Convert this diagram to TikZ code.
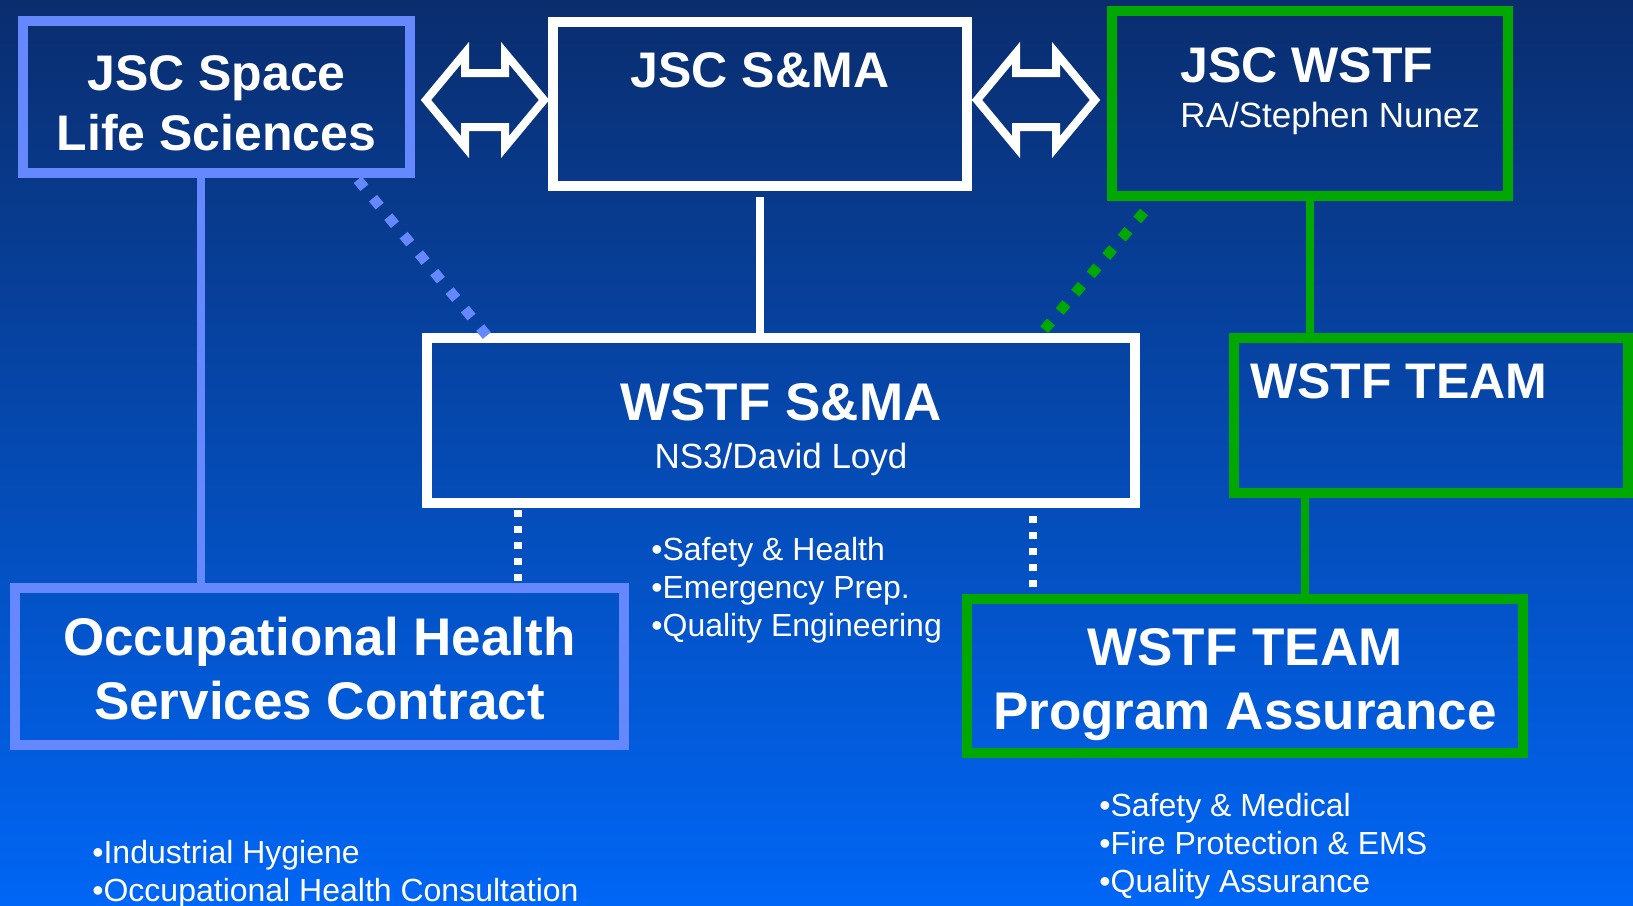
\documentclass[tikz,border=0pt]{standalone}
\usepackage{fontspec}
\setmainfont{Liberation Sans}
\usetikzlibrary{calc,positioning}
\definecolor{lsblue}{RGB}{102,136,255}
\definecolor{wgreen}{RGB}{0,168,0}
\definecolor{bgtop}{RGB}{10,45,110}
\definecolor{bgbot}{RGB}{0,102,245}
\begin{document}
\begin{tikzpicture}[
    x=0.5pt, y=-0.5pt,
    lsbox/.style={rectangle, draw=lsblue, line width=4.7pt, inner sep=0pt},
    whitebox/.style={rectangle, draw=white, line width=5pt, inner sep=0pt},
    greenbox/.style={rectangle, draw=wgreen, line width=5pt, inner sep=0pt},
    head/.style={text=white, font=\fontsize{25}{30}\selectfont\bfseries, align=center},
    bighead/.style={text=white, font=\fontsize{26.5}{32}\selectfont\bfseries, align=center},
    sub/.style={text=white, font=\fontsize{17.5}{21}\selectfont},
    items/.style={text=white, font=\fontsize{16}{19}\selectfont, align=left, anchor=west, inner sep=0pt},
    lsline/.style={draw=lsblue, line width=3.6pt},
    wline/.style={draw=white, line width=3.6pt},
    gline/.style={draw=wgreen, line width=4pt},
    lsdots/.style={draw=lsblue, line width=5.2pt, dash pattern=on 5.2pt off 6.8pt},
    gdots/.style={draw=wgreen, line width=5.2pt, dash pattern=on 5.2pt off 6.8pt},
    wdots/.style={draw=white, line width=4pt, dash pattern=on 3.5pt off 4.5pt},
    twoway/.style={draw=white, line width=4pt, line join=miter}
]
    % page and background
    \useasboundingbox (0,0) rectangle (1633,905);
    \clip (0,0) rectangle (1633,905);
    \shade[top color=bgtop, bottom color=bgbot] (0,0) rectangle (1633,905);

    % Boxes at absolute coordinates (pixels of the slide)
    \node[lsbox, minimum width=193.5pt, minimum height=76pt] (ls) at (216.5,97) {};
    \node[whitebox, minimum width=207pt, minimum height=82pt] (sma) at (760,104) {};
    \node[greenbox, minimum width=198pt, minimum height=92.5pt] (wstf) at (1310,103.5) {};
    \node[whitebox, minimum width=354pt, minimum height=82.5pt] (wsma) at (781,420.5) {};
    \node[greenbox, minimum width=197pt, minimum height=77.5pt] (team) at (1431,415.5) {};
    \node[lsbox, minimum width=304.5pt, minimum height=78.5pt] (ohs) at (319.5,666.5) {};
    \node[greenbox, minimum width=278pt, minimum height=77pt] (pa) at (1245,676) {};

    % Box titles
    \node[head] (lst) at (216.5,103) {JSC Space\\Life Sciences};
    \node[head] (smat) at (760,70) {JSC S\&MA};
    \node[head, anchor=west, inner sep=0pt] (wstft) at (1180,65) {JSC WSTF};
    \node[sub, anchor=west, inner sep=0pt] (wstfs) at (1180,118) {RA/Stephen Nunez};
    \node[bighead] (wsmat) at (781,402) {WSTF S\&MA};
    \node[sub] (wsmas) at (781,459) {NS3/David Loyd};
    \node[head, anchor=west, inner sep=0pt] (teamt) at (1250,381) {WSTF TEAM};
    \node[bighead] (ohst) at (319.5,668.5) {Occupational Health\\Services Contract};
    \node[bighead] (pat) at (1245,685) {WSTF TEAM\\Program Assurance};

    % Task lists
    \node[items] (smalist) at (651,590) {•Safety \& Health\\•Emergency Prep.\\•Quality Engineering};
    \node[items] (ohslist) at (92,874) {•Industrial Hygiene\\•Occupational Health Consultation};
    \node[items] (palist) at (1099,846) {•Safety \& Medical\\•Fire Protection \& EMS\\•Quality Assurance};

    % Two-way links
    \draw[twoway] ($(sma.west)+(-4,-4)$) -- ++(-39,-47) -- ++(0,20) -- ++(-40,0) -- ++(0,-20)
        -- ++(-39,47) -- ++(39,47) -- ++(0,-20) -- ++(40,0) -- ++(0,20) -- cycle;
    \draw[twoway] ($(sma.east)+(5,-4)$) -- ++(39,-47) -- ++(0,20) -- ++(40,0) -- ++(0,-20)
        -- ++(39,47) -- ++(-39,47) -- ++(0,-20) -- ++(-40,0) -- ++(0,20) -- cycle;

    % Solid lines
    \coordinate (lsfoot) at ($(ls.south)+(-15.5,0)$);
    \draw[lsline] (lsfoot) -- (lsfoot |- ohs.north);
    \draw[wline] ([yshift=-3pt]sma.south) -- (sma.south |- wsma.north);
    \draw[gline] (wstf.south) -- (wstf.south |- team.north);
    \coordinate (pafoot) at ($(pa.north)+(60,0)$);
    \draw[gline] (pafoot |- team.south) -- (pafoot);

    % Dotted lines
    \draw[lsdots] ($(ls.south east)+(-57,2)$) -- ($(wsma.north west)+(66,4)$);
    \draw[gdots] ($(wstf.south west)+(37,11)$) -- ($(wsma.north east)+(-102,4)$);
    \coordinate (d1) at ($(wsma.south west)+(96,2)$);
    \draw[wdots] (d1) -- (d1 |- ohs.north);
    \coordinate (d2) at ($(wsma.south east)+(-107,8)$);
    \draw[wdots] (d2) -- (d2 |- pa.north);
\end{tikzpicture}
\end{document}
